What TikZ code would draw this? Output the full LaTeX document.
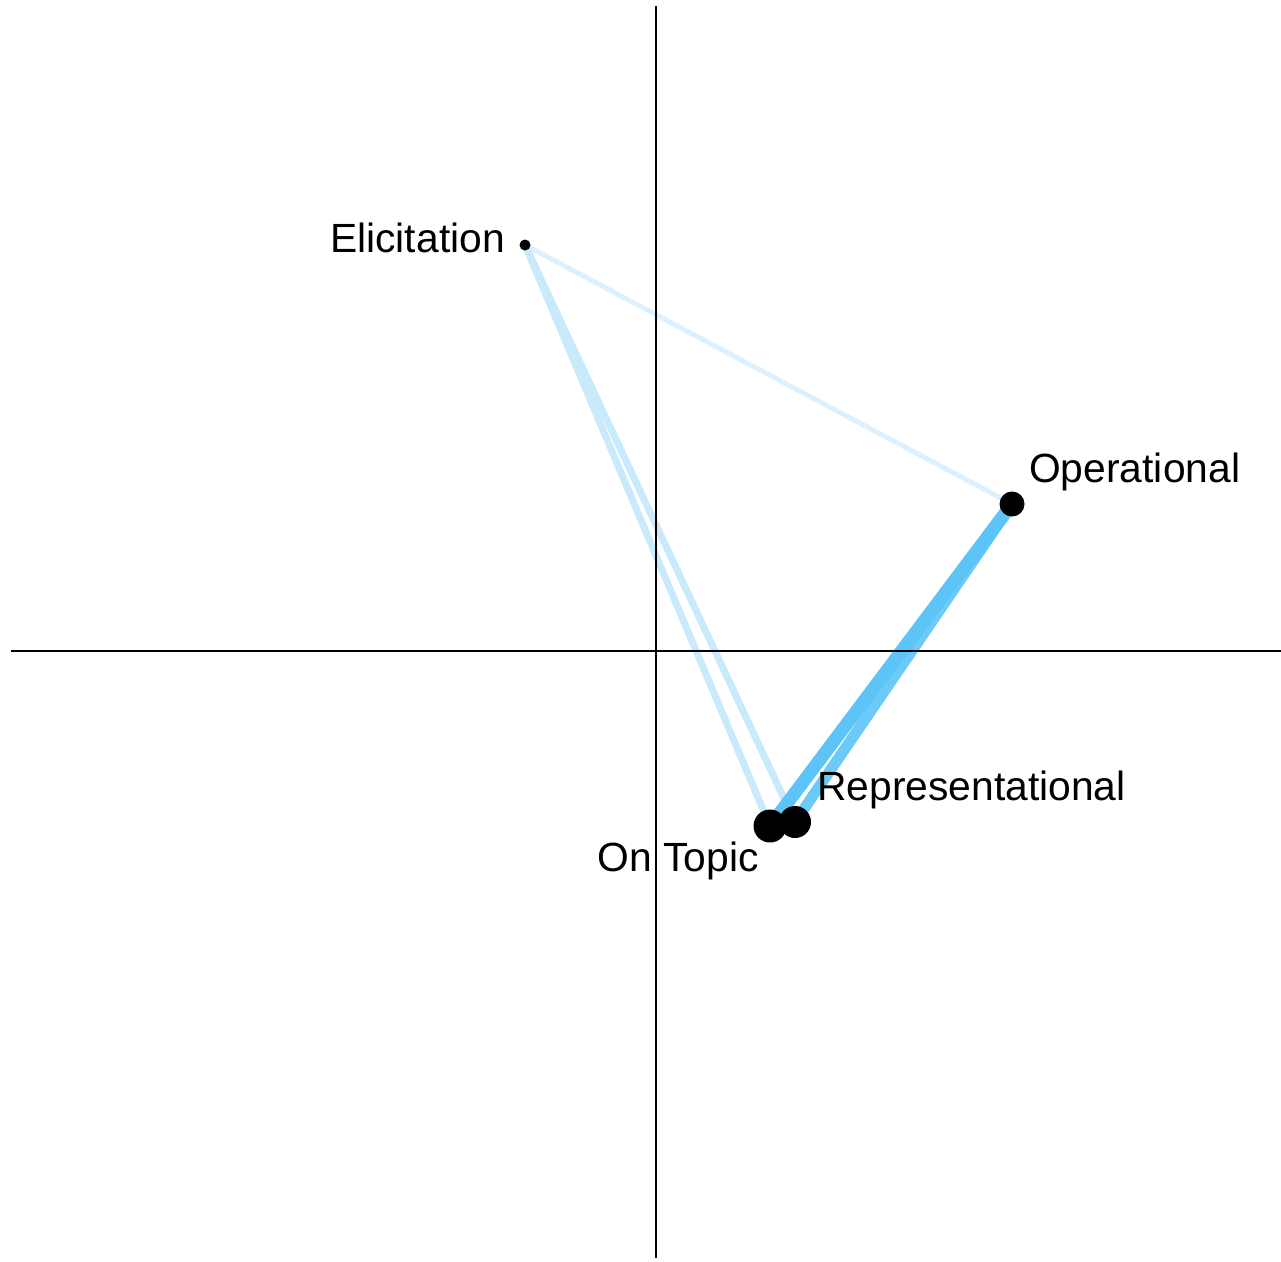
\documentclass[tikz,border=0pt]{standalone}
\usepackage{fontspec}
\setmainfont{Liberation Sans}
\usetikzlibrary{positioning}

\definecolor{edgeLight}{RGB}{220,241,253}
\definecolor{edgeMid}{RGB}{200,234,251}
\definecolor{edgeStrong}{RGB}{92,196,246}
\definecolor{edgeStrong2}{RGB}{108,202,248}

\tikzset{
  pt/.style={circle,fill=black,inner sep=0pt},
  lbl/.style={inner sep=0pt,font=\fontsize{40.8}{48}\selectfont},
  axis/.style={line width=2.4pt,black}
}

\begin{document}
\begin{tikzpicture}[x=1pt,y=1pt,yscale=-1,xscale=1]
        \useasboundingbox (0,0) rectangle (1281,1261);

        %Points
        \coordinate (elic) at (525,245);
        \coordinate (oper) at (1012,504);
        \coordinate (ontop) at (770,826);
        \coordinate (repr) at (795,822);

        %Edges
        \draw[edgeLight,line width=5pt] (elic) -- (oper);
        \draw[edgeMid,line width=7pt] (elic) -- (ontop);
        \draw[edgeMid,line width=7pt] (elic) -- (repr);
        \draw[edgeStrong2,line width=11pt] (oper) -- (repr);
        \draw[edgeStrong,line width=13pt] (oper) -- (ontop);
        \draw[edgeStrong,line width=6pt] (ontop) -- (repr);

        %Axes
        \draw[axis] (11,651) -- (1281,651);
        \draw[axis] (656,6) -- (656,1258);

        %Nodes
        \node[pt,minimum size=11pt] (elicN) at (elic) {};
        \node[pt,minimum size=25pt] (operN) at (oper) {};
        \node[pt,minimum size=32pt] (reprN) at (repr) {};
        \node[pt,minimum size=33pt] (ontopN) at (ontop) {};

        % Text Node
        \node[lbl,anchor=east] (elicL) at (505,238) {Elicitation};
        % Text Node
        \node[lbl,anchor=west] (operL) at (1029,472) {Operational};
        % Text Node
        \node[lbl,anchor=west] (reprL) at (817,790) {Representational};
        % Text Node
        \node[lbl,anchor=east] (ontopL) at (759,861) {On Topic};
\end{tikzpicture}
\end{document}
